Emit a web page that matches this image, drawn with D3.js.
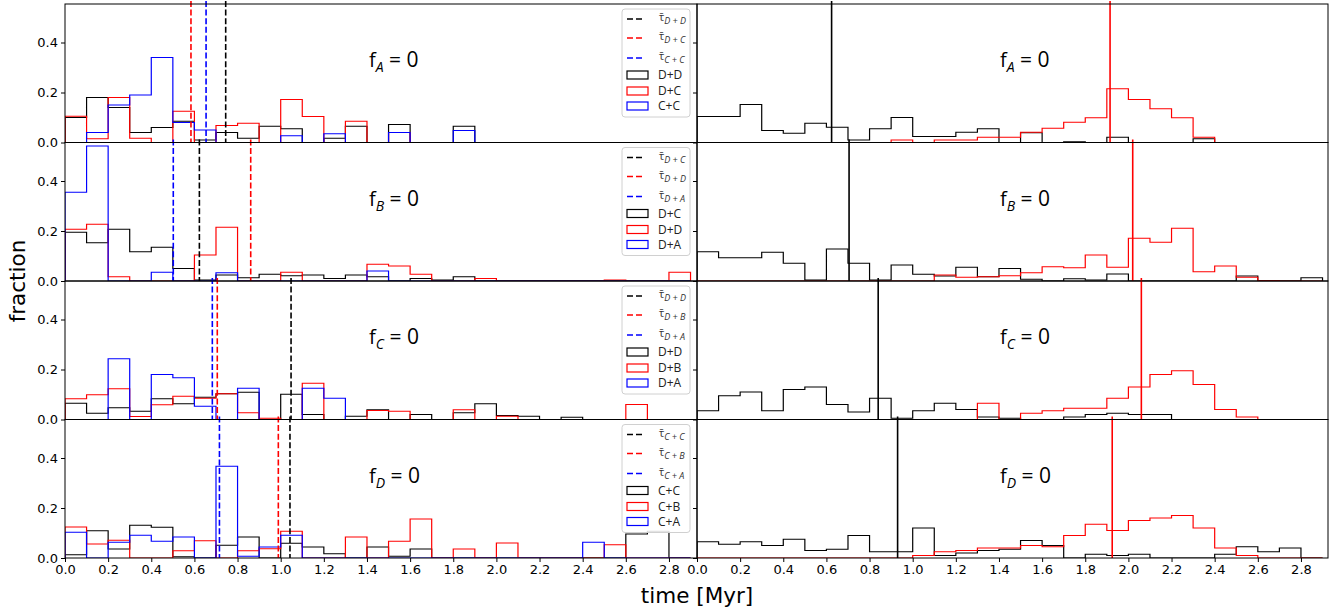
<!DOCTYPE html>
<html>
<head>
<meta charset="utf-8">
<script src="https://d3js.org/d3.v7.min.js"></script>
<style>
  body { margin: 0; background: #fff; }
  text { font-family: "DejaVu Sans", sans-serif; }
  .ann { font-family: "Open Sans", "DejaVu Sans", sans-serif; }
</style>
</head>
<body>
<svg id="svg" width="1333" height="610"></svg>
<script>

// bin edges of all histograms (Myr), width 0.1
var binEdges = d3.range(0, 30).map(function(i){ return i / 10; });

// ---- left column: merger time histograms ----
// f_A = 0
var A_DD = [0.10,0.18,0.14,0.04,0.06,0.085,0.01,0.04,0.017,0.065,0.055,0,0.017,0.065,0,0.072,0,0,0.065,0,0,0,0,0,0,0,0,0,0];
var A_DC = [0.105,0.015,0.18,0.017,0,0.125,0,0.068,0.077,0,0.172,0.104,0,0.085,0,0.04,0,0,0,0,0,0,0,0,0,0,0,0,0];
var A_CC = [0,0.04,0.15,0.19,0.34,0.08,0.05,0,0,0,0.027,0,0.035,0,0,0.04,0,0,0.048,0,0,0,0,0,0,0,0,0,0];
// f_B = 0
var B_DC = [0.195,0.153,0.207,0.117,0.135,0.05,0.004,0.024,0.013,0.027,0.021,0.024,0.01,0.024,0.017,0,0.01,0.004,0.017,0,0,0,0,0,0,0,0,0,0];
var B_DD = [0.207,0.227,0.017,0,0,0,0.104,0.215,0,0,0.035,0,0,0,0.067,0.06,0.027,0,0,0.01,0,0,0,0,0,0.004,0,0,0.035];
var B_DA = [0.355,0.54,0,0,0.035,0,0,0.033,0,0,0,0,0,0,0.04,0,0,0,0,0,0,0,0,0,0,0,0,0,0];
// f_C = 0
var C_DD = [0.065,0.025,0.047,0.033,0.083,0.063,0.089,0.103,0.109,0,0.101,0.02,0,0.013,0.039,0,0.02,0,0.027,0.063,0.016,0.013,0,0.009,0,0,0,0,0];
var C_DB = [0.083,0.099,0.123,0.012,0.059,0.093,0.085,0.103,0.027,0.005,0,0.145,0,0,0.036,0.033,0,0,0.039,0,0.013,0,0,0,0,0,0.06,0,0];
var C_DA = [0,0,0.243,0,0.18,0.167,0.053,0,0.125,0,0,0.125,0.085,0,0,0,0,0,0,0,0,0,0,0,0,0,0,0,0];
// f_D = 0
var D_CC = [0.013,0.109,0.036,0.131,0.123,0.005,0,0.051,0.084,0,0.059,0.044,0.017,0,0.044,0.007,0.036,0,0,0,0,0,0,0,0,0,0.096,0.107,0];
var D_CB = [0.124,0.056,0.071,0,0,0.029,0.069,0,0.029,0.037,0.107,0,0,0.084,0,0.067,0.156,0,0.036,0,0.06,0,0,0,0,0.053,0,0,0];
var D_CA = [0.103,0,0.063,0.091,0.067,0.084,0,0.367,0.007,0.044,0.091,0,0,0,0,0,0,0,0,0,0,0,0,0,0.063,0,0,0,0];

// mean merger times (dashed lines), order black, red, blue
var tauA = [0.745, 0.584, 0.654];
var tauB = [0.623, 0.861, 0.502];
var tauC = [1.048, 0.706, 0.683];
var tauD = [1.043, 0.989, 0.716];

// legend labels
var tauLabA = ["D+D","D+C","C+C"], histLabA = ["D+D","D+C","C+C"];
var tauLabB = ["D+C","D+D","D+A"], histLabB = ["D+C","D+D","D+A"];
var tauLabC = ["D+D","D+B","D+A"], histLabC = ["D+D","D+B","D+A"];
var tauLabD = ["C+C","C+B","C+A"], histLabD = ["C+C","C+B","C+A"];

// ---- right column ----
var rA_black = [0.104,0.104,0.152,0.048,0.037,0.077,0.061,0.01,0.055,0.1,0.024,0.024,0.041,0.055,0,0.039,0,0.003,0,0.021,0,0,0,0.015,0,0,0,0,0];
var rA_red   = [0,0,0,0,0,0,0,0,0,0.01,0,0.01,0.01,0.021,0.021,0.041,0.057,0.081,0.099,0.215,0.172,0.135,0.099,0.021,0,0,0,0,0];
var rB_black = [0.117,0.093,0.093,0.115,0.071,0.004,0.128,0.071,0.004,0.064,0.027,0.02,0.055,0.017,0.05,0.007,0,0.009,0.004,0.028,0,0,0,0,0,0.02,0,0,0.013];
var rB_red   = [0,0,0,0,0,0,0,0,0,0,0,0.024,0.015,0.017,0.021,0.033,0.057,0.053,0.104,0.055,0.171,0.155,0.211,0.037,0.06,0.015,0.002,0,0];
var rC_black = [0.035,0.095,0.11,0.035,0.12,0.13,0.06,0.03,0.085,0.005,0.035,0.065,0.04,0.01,0.005,0,0,0.01,0.02,0.025,0.02,0.02,0,0,0,0,0,0,0];
var rC_red   = [0,0,0,0,0,0,0,0,0,0,0,0,0,0.065,0,0.025,0.035,0.045,0.045,0.085,0.13,0.18,0.195,0.14,0.04,0.01,0,0,0];
var rD_black = [0.065,0.055,0.065,0.05,0.075,0.03,0.035,0.09,0.025,0.025,0.12,0.01,0.02,0.03,0.035,0.07,0.05,0,0.015,0.01,0.015,0,0,0,0.015,0.045,0.025,0.04,0];
var rD_red   = [0,0,0,0,0,0,0,0,0,0,0.01,0.025,0.03,0.04,0.04,0.05,0.045,0.09,0.135,0.11,0.15,0.16,0.17,0.12,0.04,0.01,0,0,0];
var rLines = [[0.624, 1.915], [0.705, 2.02], [0.84, 2.06], [0.93, 1.925]];

var fLetters = ["A","B","C","D"];
var xTicks = [0,0.2,0.4,0.6,0.8,1.0,1.2,1.4,1.6,1.8,2.0,2.2,2.4,2.6,2.8];
var yTicks = [0, 0.2, 0.4];

var leftHists = [[A_DD,A_DC,A_CC],[B_DC,B_DD,B_DA],[C_DD,C_DB,C_DA],[D_CC,D_CB,D_CA]];
var taus = [tauA, tauB, tauC, tauD];
var tauLabs = [tauLabA, tauLabB, tauLabC, tauLabD];
var histLabs = [histLabA, histLabB, histLabC, histLabD];
var rightHists = [[rA_black, rA_red],[rB_black, rB_red],[rC_black, rC_red],[rD_black, rD_red]];
var colors = ["#000000", "#ff0000", "#0000ff"];

var svg = d3.select("#svg");
var colX = [65, 697], colW = [632, 631];
var rowTop = [4, 142.5, 281, 419.5], rowH = 138.5;
var pxPerUnit = 215.7;

function stepPath(vals, x, y) {
  var pts = [[x(binEdges[0]), y(0)]];
  vals.forEach(function(v, i) {
    pts.push([x(binEdges[i]), y(v)]);
    pts.push([x(binEdges[i+1]), y(v)]);
  });
  pts.push([x(binEdges[vals.length]), y(0)]);
  return d3.line()(pts);
}

function drawPanel(r, c) {
  var x0 = colX[c], w = colW[c], py = rowTop[r];
  var x = d3.scaleLinear().domain([0, w / pxPerUnit]).range([x0, x0 + w]);
  var y = d3.scaleLinear().domain([0, rowH / 250]).range([py + rowH, py]);
  var id = "clip" + r + c;
  svg.append("clipPath").attr("id", id).append("rect")
    .attr("x", x0).attr("y", py).attr("width", w).attr("height", rowH);
  var g = svg.append("g");
  var hg = g.append("g").attr("clip-path", "url(#" + id + ")");

  var hists = c == 0 ? leftHists[r] : rightHists[r];
  hists.forEach(function(vals, k) {
    hg.append("path").attr("d", stepPath(vals, x, y))
      .attr("fill", "none").attr("stroke", colors[k]).attr("stroke-width", 1.2);
  });
  var lines = c == 0 ? taus[r] : rLines[r];
  lines.forEach(function(t, k) {
    g.append("line").attr("x1", x(t)).attr("x2", x(t))
      .attr("y1", py - 3).attr("y2", py + rowH)
      .attr("stroke", colors[k]).attr("stroke-width", 1.6)
      .attr("stroke-dasharray", c == 0 ? "6,2.6" : null);
  });

  // frame
  g.append("rect").attr("x", x0).attr("y", py).attr("width", w).attr("height", rowH)
    .attr("fill", "none").attr("stroke", "#000").attr("stroke-width", 1);

  // y axis
  var ya = d3.axisLeft(y).tickValues(yTicks).tickSize(4).tickPadding(3)
    .tickFormat(c == 0 ? d3.format(".1f") : function(){ return ""; });
  var yg = g.append("g").attr("transform", "translate(" + x0 + ",0)").call(ya);
  yg.select(".domain").remove();
  yg.selectAll("text").style("font-size", "13px").attr("fill", "#000");

  if (r == 3) {
    var xa = d3.axisBottom(x).tickValues(xTicks).tickSize(4).tickPadding(3).tickFormat(d3.format(".1f"));
    var xg = g.append("g").attr("transform", "translate(0," + (py + rowH) + ")").call(xa);
    xg.select(".domain").remove();
    xg.selectAll("text").style("font-size", "13px").attr("fill", "#000");
  }

  // annotation f_X = 0
  var ax = c == 0 ? 369 : 1000;
  var at = g.append("text").attr("class", "ann").attr("x", ax).attr("y", py + 63)
    .style("font-size", "20px").attr("fill", "#000");
  at.append("tspan").text("f");
  at.append("tspan").text(fLetters[r]).attr("dy", 5).style("font-size", "14px").style("font-style", "italic");
  at.append("tspan").text(" = 0").attr("dy", -5).style("font-size", "21px");

  // legend
  if (c == 0) {
    var lg = g.append("g").attr("transform", "translate(622," + (py + 5) + ")");
    lg.append("rect").attr("width", 68).attr("height", 108).attr("rx", 3)
      .attr("fill", "#fff").attr("fill-opacity", 0.85).attr("stroke", "#d0d0d0");
    var rowsY = [10, 29, 49, 66, 82, 97];
    for (var k = 0; k < 3; k++) {
      lg.append("line").attr("x1", 5).attr("x2", 23).attr("y1", rowsY[k]).attr("y2", rowsY[k])
        .attr("stroke", colors[k]).attr("stroke-width", 1.6).attr("stroke-dasharray", "6,3");
      var tt = lg.append("text").attr("class", "ann").attr("x", 37).attr("y", rowsY[k] + 2)
        .style("font-size", "11px").attr("fill", "#333");
      tt.append("tspan").text("\u03C4\u0304");
      tt.append("tspan").text(tauLabs[r][k].replace("+", " + ")).attr("dy", 3)
        .style("font-size", "9px").style("font-style", "italic");
      lg.append("rect").attr("x", 5).attr("y", rowsY[k+3] - 4).attr("width", 21).attr("height", 8)
        .attr("fill", "none").attr("stroke", colors[k]).attr("stroke-width", 1.2);
      lg.append("text").attr("class", "ann").attr("x", 36).attr("y", rowsY[k+3] + 4)
        .style("font-size", "12px").attr("fill", "#222").text(histLabs[r][k]);
    }
  }
}

for (var ri = 0; ri < 4; ri++) {
  for (var ci = 0; ci < 2; ci++) drawPanel(ri, ci);
}

svg.append("text").attr("x", 697).attr("y", 603).attr("text-anchor", "middle")
  .style("font-size", "21.5px").text("time [Myr]");
svg.append("text").attr("transform", "translate(25,281) rotate(-90)").attr("text-anchor", "middle")
  .style("font-size", "21.5px").text("fraction");

</script>
</body>
</html>
